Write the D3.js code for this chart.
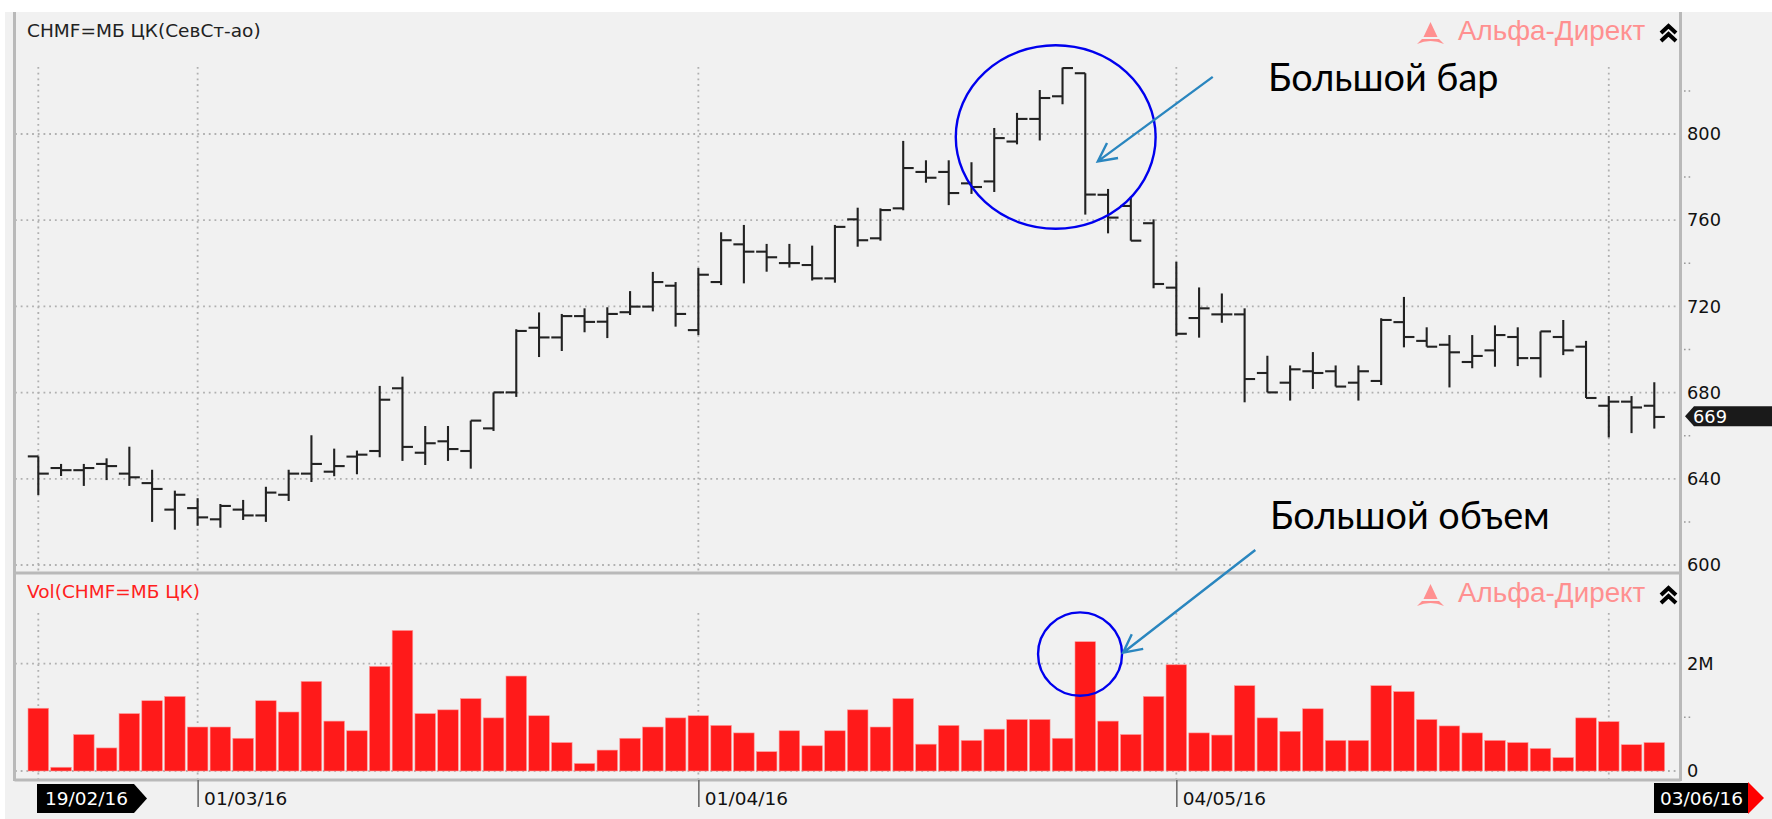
<!DOCTYPE html>
<html>
<head>
<meta charset="utf-8">
<script src="https://cdn.jsdelivr.net/npm/d3@7"></script>
<style>
    html, body { margin: 0; padding: 0; background: #fff; }
    svg { display: block; }
    .ui-text { font-family: "DejaVu Sans", sans-serif; font-size: 18.5px; }
</style>
</head>
<body>
<div id="chart"></div>
<script>
// Daily bars
let opens = [650.4,645,644,646.9,642.4,638,625.7,626.4,621.2,625.7,623,632.6,642.4,643.3,650.3,652.9,682,652.1,657.4,652.9,663.4,680.1,710.1,705.6,715.5,712.9,717.3,719.9,729.6,709,731.3,748.8,745.4,740.1,739.2,733,760.4,751.6,765.5,782.4,782.4,777.1,778,796.5,807,817.5,828.2,771.8,766.6,758.6,728.7,714.6,716.3,716.3,689.1,684.6,689.9,689.9,684.6,685.4,712.7,704,702.2,694.2,699.6,705.8,696,705.8,701.3,673.9,675.8,673.9];
let closes = [642.4,644,645,645.9,640.7,635.3,632.6,622.1,627.4,623,633.6,642.4,646.9,645.9,651.2,676.7,654.8,656.5,653.8,667,680.1,708.6,705.6,715.5,712.8,716.5,719.9,731.3,716.5,734.7,750.7,745.4,742.8,740.1,733,756.9,750.7,764.7,784.2,779.7,772.6,775.4,798.1,807,816.7,830.6,771.9,761.2,750.5,730.4,707.3,719.1,716.3,686.3,680.1,690.8,689.1,682.8,689.9,713.7,705.8,701.3,698.7,697,706.7,696,708.4,699.6,677.5,675.8,673.1,668.7];
let highs = [650.4,646.9,646.9,649.5,654.9,644.2,634.5,631,628.3,630.2,636.3,644.2,660.2,654,653.1,683.1,687.4,664.5,664.5,667,680.1,709.4,717.2,716.5,719.1,719.6,727.1,736,731.3,737.8,754.4,757.8,749,749,748.2,757.8,765.8,765.5,796.8,787.8,787.8,786.9,802.8,809.8,820.4,830.8,828.2,774.5,770.9,760.4,740.7,728.8,726,719.1,697.1,692.6,698.8,692.6,692.6,714.5,724.4,710.3,706.7,706.7,711.2,710.3,708.4,713.7,704,678.4,678.4,684.8];
let lows = [632.5,641.3,636.7,639.4,636.7,620,616.4,618.2,617.3,620.9,620,629.7,638.5,641.2,642.1,650,648.3,646.4,648.3,644.7,662.2,678,696.5,699.3,708,705.3,716,717.7,710.6,706.7,729.9,730.7,736.1,738,732,731,747.7,750.5,764.6,777.4,767,772.2,773.1,795.2,797,813.8,762.6,753.9,750.5,728.4,706.3,705.5,712.4,675.5,680.1,676.3,681.7,682.8,676.3,683.5,701,701.3,682.4,691.3,692,692.3,687,697.4,677.5,659.2,661.2,663.3];
// Volume in millions
let volumes = [1.17,0.07,0.68,0.43,1.07,1.31,1.39,0.82,0.82,0.61,1.31,1.10,1.67,0.93,0.75,1.95,2.62,1.07,1.14,1.35,0.99,1.77,1.03,0.53,0.14,0.39,0.61,0.82,0.99,1.03,0.85,0.71,0.36,0.75,0.47,0.75,1.14,0.82,1.35,0.50,0.85,0.57,0.78,0.96,0.96,0.61,2.41,0.93,0.68,1.39,1.98,0.71,0.67,1.59,0.99,0.74,1.16,0.57,0.57,1.59,1.48,0.96,0.84,0.71,0.57,0.53,0.42,0.25,0.99,0.92,0.49,0.53];

let priceTicks = [600, 640, 680, 720, 760, 800];
let priceMinorTicks = [620, 660, 700, 740, 780, 820];
let volumeTicks = [0, 2];
let volumeMinorTicks = [1];
let gridBars = [0, 7, 29, 50, 69];
let dateBars = [7, 29, 50];
let dateLabels = ["01/03/16", "01/04/16", "04/05/16"];
let firstDate = "19/02/16";
let lastDate = "03/06/16";
let lastPrice = 669;

let svg = d3.select("#chart")
    .append("svg")
    .attr("width", 1772)
    .attr("height", 819);

// Scales
let x = d3.scaleLinear().domain([0, 71]).range([38.3, 1654.3]);
let yPrice = d3.scaleLinear().domain([600, 800]).range([565, 134]);
let yVol = d3.scaleLinear().domain([0, 2]).range([771, 663.7]);

// Panel background
svg.append("rect").attr("x", 5).attr("y", 12).attr("width", 1767).attr("height", 807).attr("fill", "#f1f1f1");

// Dotted grid
function hGrid(values, scale) {
    svg.append("g").selectAll("line")
        .data(values)
        .enter()
        .append("line")
        .attr("class", "grid")
        .attr("x1", 15)
        .attr("x2", 1680)
        .attr("y1", function (d) { return scale(d); })
        .attr("y2", function (d) { return scale(d); });
}
function vGrid(y1, y2) {
    svg.append("g").selectAll("line")
        .data(gridBars)
        .enter()
        .append("line")
        .attr("class", "grid")
        .attr("x1", function (d) { return x(d); })
        .attr("x2", function (d) { return x(d); })
        .attr("y1", y1)
        .attr("y2", y2);
}
hGrid(priceTicks, yPrice);
hGrid(volumeTicks, yVol);
vGrid(67, 572);
vGrid(613, 779);
svg.selectAll(".grid")
    .attr("stroke", "#b0b0b0")
    .attr("stroke-width", 1.8)
    .attr("stroke-dasharray", "1.8 3.9");

// Volume bars
svg.append("g").selectAll("rect")
    .data(volumes)
    .enter()
    .append("rect")
    .attr("x", function (d, i) { return x(i) - 10.3; })
    .attr("width", 20.6)
    .attr("y", function (d) { return yVol(d); })
    .attr("height", function (d) { return yVol(0) - yVol(d); })
    .attr("fill", "#ff1a1a")
    .attr("stroke", "#ff9a9a")
    .attr("stroke-width", 0.6);

// OHLC bars
let bars = svg.append("g")
    .attr("stroke", "#222")
    .attr("stroke-width", 2.1)
    .selectAll("g")
    .data(opens)
    .enter()
    .append("g");
bars.append("line")
    .attr("x1", function (d, i) { return x(i); })
    .attr("x2", function (d, i) { return x(i); })
    .attr("y1", function (d, i) { return yPrice(highs[i]); })
    .attr("y2", function (d, i) { return yPrice(lows[i]); });
bars.append("line")
    .attr("x1", function (d, i) { return x(i) - 10.5; })
    .attr("x2", function (d, i) { return x(i); })
    .attr("y1", function (d) { return yPrice(d); })
    .attr("y2", function (d) { return yPrice(d); });
bars.append("line")
    .attr("x1", function (d, i) { return x(i); })
    .attr("x2", function (d, i) { return x(i) + 10.5; })
    .attr("y1", function (d, i) { return yPrice(closes[i]); })
    .attr("y2", function (d, i) { return yPrice(closes[i]); });

// Frame
let frame = svg.append("g").attr("stroke", "#b9b9b9").attr("stroke-width", 3);
frame.append("line").attr("x1", 14.5).attr("x2", 14.5).attr("y1", 12).attr("y2", 781);
frame.append("line").attr("x1", 1680.5).attr("x2", 1680.5).attr("y1", 12).attr("y2", 781);
frame.append("line").attr("x1", 14.5).attr("x2", 1680.5).attr("y1", 573).attr("y2", 573);
frame.append("line").attr("x1", 14.5).attr("x2", 1680.5).attr("y1", 780).attr("y2", 780);

// Right axes
function rightAxis(scale, ticks, minor, format) {
    svg.append("g")
        .attr("transform", "translate(1680,0)")
        .attr("class", "ui-text")
        .call(d3.axisRight(scale).tickValues(ticks).tickSize(0).tickPadding(7).tickFormat(format))
        .call(function (g) { g.select(".domain").remove(); })
        .selectAll("text")
        .attr("fill", "#111")
        .style("font-size", "17.8px");
    svg.append("g").selectAll("line")
        .data(minor)
        .enter()
        .append("line")
        .attr("x1", 1684)
        .attr("x2", 1692)
        .attr("y1", function (d) { return scale(d); })
        .attr("y2", function (d) { return scale(d); })
        .attr("stroke", "#999")
        .attr("stroke-width", 1.5)
        .attr("stroke-dasharray", "1.6 3");
}
rightAxis(yPrice, priceTicks, priceMinorTicks, function (d) { return d; });
rightAxis(yVol, volumeTicks, volumeMinorTicks, function (d) { return d === 0 ? "0" : d + "M"; });

// Date axis
svg.append("g")
    .attr("transform", "translate(0,780)")
    .attr("class", "ui-text")
    .call(d3.axisBottom(x).tickValues(dateBars).tickSize(27).tickFormat(function (d, i) { return dateLabels[i]; }))
    .call(function (g) { g.select(".domain").remove(); })
    .call(function (g) { g.selectAll("line").attr("stroke", "#666").attr("stroke-width", 1.5); })
    .selectAll("text")
    .attr("fill", "#111")
    .attr("text-anchor", "start")
    .attr("x", 6)
    .attr("y", 25)
    .attr("dy", 0)
    .style("font-size", "18.5px");

// Last price flag
svg.append("path")
    .attr("d", d3.line()([[1685, yPrice(lastPrice)], [1694, yPrice(lastPrice) - 10], [1772, yPrice(lastPrice) - 10], [1772, yPrice(lastPrice) + 10], [1694, yPrice(lastPrice) + 10]]))
    .attr("fill", "#1a1a1a");
svg.append("text")
    .attr("class", "ui-text")
    .attr("x", 1693)
    .attr("y", yPrice(lastPrice) + 6.5)
    .attr("fill", "#fff")
    .style("font-size", "17.8px")
    .text(lastPrice);

// Range start and end flags
svg.append("path")
    .attr("d", "M37,784 L134,784 L147,798.5 L134,813 L37,813 Z")
    .attr("fill", "#000");
svg.append("text")
    .attr("class", "ui-text")
    .attr("x", 45)
    .attr("y", 805)
    .attr("fill", "#fff")
    .text(firstDate);
svg.append("rect").attr("x", 1654).attr("y", 783).attr("width", 94).attr("height", 30).attr("fill", "#000");
svg.append("path").attr("d", "M1748,782 L1764,798 L1748,814 Z").attr("fill", "#ff0000");
svg.append("text")
    .attr("class", "ui-text")
    .attr("x", 1660)
    .attr("y", 805)
    .attr("fill", "#fff")
    .text(lastDate);

// Pane titles
svg.append("text").attr("class", "ui-text").attr("x", 27).attr("y", 37).attr("fill", "#222").text("CHMF=МБ ЦК(СевСт-ао)");
svg.append("text").attr("class", "ui-text").attr("x", 27).attr("y", 598).attr("fill", "#ff2020").text("Vol(CHMF=МБ ЦК)");

// Broker logo, repeated in both panes
function logo(top) {
    svg.append("path")
        .attr("d", "M1430.5," + top + " L1437.5," + (top + 15) + " L1423.5," + (top + 15) + " Z"
            + " M1422," + (top + 17) + " L1439," + (top + 17) + " L1444," + (top + 22) + " Q1430.5," + (top + 16) + " 1417," + (top + 22) + " Z")
        .attr("fill", "#ff9090");
    svg.append("text")
        .attr("x", 1458)
        .attr("y", top + 18)
        .attr("fill", "#ff9090")
        .style("font-family", "'Liberation Sans', sans-serif")
        .style("font-size", "27.8px")
        .text("Альфа-Директ");
    svg.append("path")
        .attr("d", "M1661," + (top + 11) + " L1668.5," + (top + 4) + " L1676," + (top + 11) + " M1661," + (top + 19) + " L1668.5," + (top + 12) + " L1676," + (top + 19))
        .attr("fill", "none")
        .attr("stroke", "#000")
        .attr("stroke-width", 4);
}
logo(22);
logo(584);

// Hand drawn annotations, placed in data units
function ring(i, scale, value, ri, rv) {
    svg.append("ellipse")
        .attr("cx", x(i))
        .attr("cy", scale(value))
        .attr("rx", x(ri) - x(0))
        .attr("ry", Math.abs(scale(rv) - scale(0)))
        .attr("fill", "none")
        .attr("stroke", "#0000ee")
        .attr("stroke-width", 2.4);
}
function arrow(x1, y1, x2, y2) {
    let angle = Math.atan2(y1 - y2, x1 - x2);
    let spread = 27 * Math.PI / 180;
    let head = 20.5;
    let p = d3.path();
    p.moveTo(x1, y1);
    p.lineTo(x2, y2);
    p.moveTo(x2 + head * Math.cos(angle - spread), y2 + head * Math.sin(angle - spread));
    p.lineTo(x2, y2);
    p.lineTo(x2 + head * Math.cos(angle + spread), y2 + head * Math.sin(angle + spread));
    svg.append("path")
        .attr("d", p.toString())
        .attr("fill", "none")
        .attr("stroke", "#2a86bf")
        .attr("stroke-width", 2.4);
}
ring(44.7, yPrice, 798.6, 4.39, 42.6);
ring(45.77, yVol, 2.18, 1.845, 0.777);
arrow(x(51.6), yPrice(826.5), x(46.55), yPrice(787.3));
arrow(x(53.47), yVol(4.12), x(47.66), yVol(2.205));

svg.append("text").attr("class", "note").attr("x", 1268).attr("y", 91).text("Большой бар");
svg.append("text").attr("class", "note").attr("x", 1270).attr("y", 529).text("Большой объем");
svg.selectAll(".note")
    .attr("fill", "#000")
    .style("font-family", "Lato, 'Noto Sans', sans-serif")
    .style("font-size", "37.8px");
</script>
</body>
</html>
